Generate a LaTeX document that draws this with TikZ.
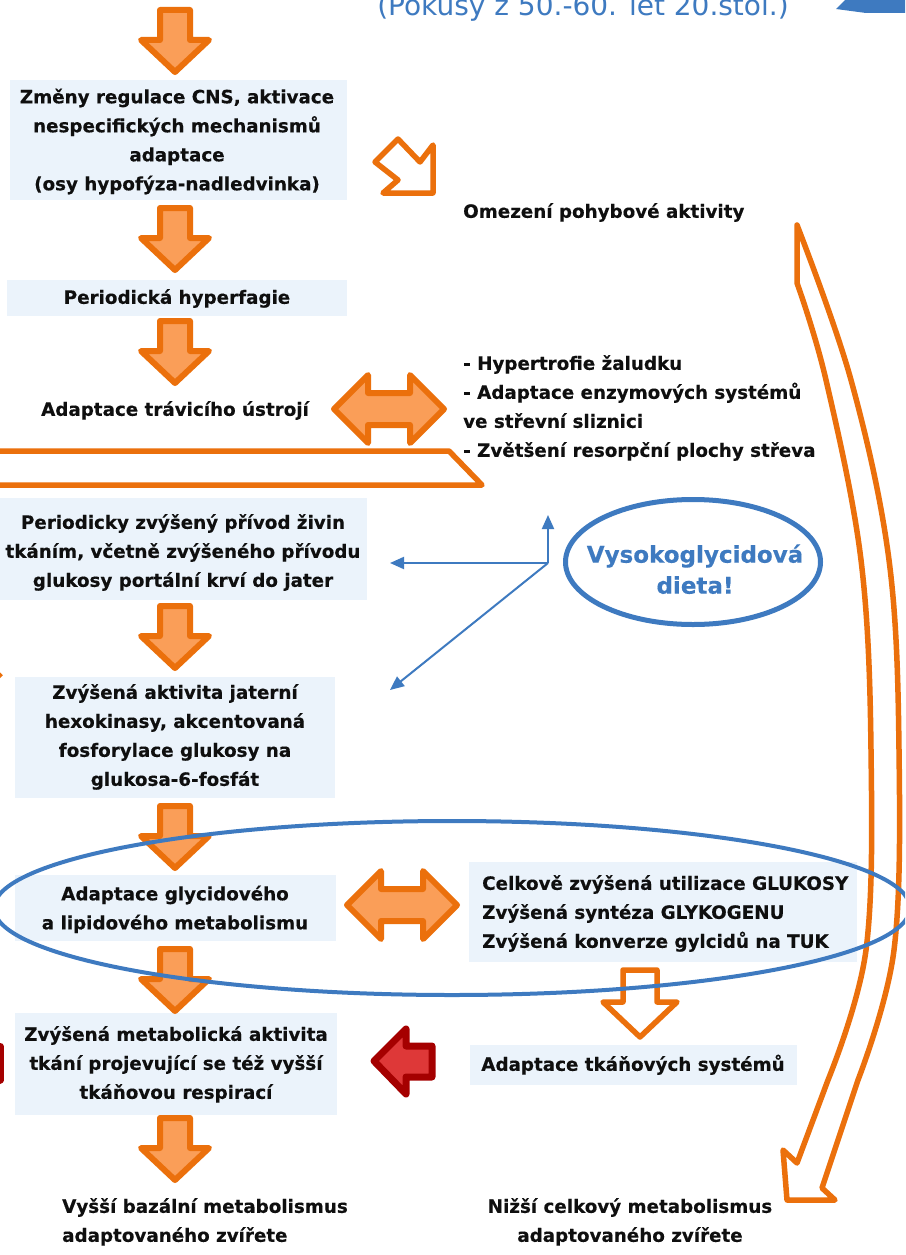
\documentclass[tikz,border=0pt]{standalone}
\usepackage{fontspec}
\setmainfont{DejaVu Sans}[BoldFeatures={FakeBold=0.35}]
\usetikzlibrary{arrows.meta,shapes.geometric}
\definecolor{orst}{RGB}{235,112,12}
\definecolor{orfill}{RGB}{250,158,88}
\definecolor{boxfill}{RGB}{235,243,251}
\definecolor{blu}{RGB}{62,122,192}
\definecolor{redst}{RGB}{165,0,0}
\definecolor{redfill}{RGB}{222,56,56}
\definecolor{inkc}{RGB}{15,15,15}
\begin{document}
\begin{tikzpicture}[x=1pt,y=-1pt,
  lbl/.style={font=\bfseries\fontsize{18.3}{29}\selectfont, text=inkc, inner sep=0pt},
  bgbox/.style={fill=boxfill},
  oarrow/.style={draw=orst, fill=orfill, line width=6pt, line join=round},
  ohollow/.style={draw=orst, fill=white, line width=5.5pt, line join=round},
  redarrow/.style={draw=redst, fill=redfill, line width=7pt, line join=round},
  bluelink/.style={draw=blu, line width=2pt, -{Triangle[length=14pt,width=12pt]}},
  darr/.pic={\path[oarrow] (-15,3) -- (15,3) -- (15,33) -- (34,33) -- (0,65) -- (-34,33) -- (-15,33) -- cycle;},
  dblarr/.pic={\path[oarrow] (-55,0) -- (-21,-34) -- (-21,-16) -- (21,-16) -- (21,-34) -- (55,0) -- (21,34) -- (21,16) -- (-21,16) -- (-21,34) -- cycle;}
]
\clip (0,0) rectangle (905,1255);
\fill[white] (0,0) rectangle (905,1255);

% caption at the top edge and its blue arrow
\node[font=\fontsize{28}{32}\selectfont, text=blu, inner sep=0pt, anchor=base] (src) at (583,16) {(Pokusy z 50.-60. let 20.stol.)};
\fill[blu] (836,9) -- (866,-21) -- (866,-6) -- (910,-6) -- (910,13) -- (866,13) -- cycle;

% background boxes
\fill[bgbox] (10,80) rectangle (347,200);
\fill[bgbox] (7,280) rectangle (347,316);
\fill[bgbox] (0,498) rectangle (367,600);
\fill[bgbox] (15,677) rectangle (335,798);
\fill[bgbox] (15,875) rectangle (336,941);
\fill[bgbox] (469,862) rectangle (857,962);
\fill[bgbox] (470,1045) rectangle (797,1085);
\fill[bgbox] (15,1013) rectangle (337,1115);

% left column texts
\node[lbl, align=center] (cns) at (177,141) {\strut Změny regulace CNS, aktivace\\\strut nespecifických mechanismů\\\strut adaptace\\\strut (osy hypofýza-nadledvinka)};
\node[lbl, align=center] (hyper) at (177,298) {\strut Periodická hyperfagie};
\node[lbl, align=center] (trav) at (175,410) {\strut Adaptace trávicího ústrojí};
\node[lbl, align=center] (privod) at (183,552) {\strut Periodicky zvýšený přívod živin\\\strut tkáním, včetně zvýšeného přívodu\\\strut glukosy portální krví do jater};
\node[lbl, align=center] (hexo) at (175,736.5) {\strut Zvýšená aktivita jaterní\\\strut hexokinasy, akcentovaná\\\strut fosforylace glukosy na\\\strut glukosa-6-fosfát};
\node[lbl, align=center] (glyc) at (175,909) {\strut Adaptace glycidového\\\strut a lipidového metabolismu};
\node[lbl, align=center] (resp) at (176,1064) {\strut Zvýšená metabolická aktivita\\\strut tkání projevující se též vyšší\\\strut tkáňovou respirací};
\node[lbl, align=left, anchor=west] (vyssi) at (62,1221.5) {\strut Vyšší bazální metabolismus\\\strut adaptovaného zvířete};

% right column texts
\node[lbl, anchor=west] (pohyb) at (463,212) {\strut Omezení pohybové aktivity};
\node[lbl, align=left, anchor=west] (gut) at (463,407.5) {\strut- Hypertrofie žaludku\\\strut- Adaptace enzymových systémů\\\strut ve střevní sliznici\\\strut- Zvětšení resorpční plochy střeva};
\node[lbl, align=left, anchor=west] (util) at (482,913) {\strut Celkově zvýšená utilizace GLUKOSY\\\strut Zvýšená syntéza GLYKOGENU\\\strut Zvýšená konverze gylcidů na TUK};
\node[lbl, align=center] (tkan) at (633,1065) {\strut Adaptace tkáňových systémů};
\node[lbl, align=center] (nizsi) at (630,1221.5) {\strut Nižší celkový metabolismus\\\strut adaptovaného zvířete};

% downward block arrows of the main chain
\foreach \yy in {7,205,318,603,803,946,1115} \pic at (175,\yy) {darr};

% double block arrows
\pic at (389,409) {dblarr};
\pic at (402,905) {dblarr};

% hollow arrows
\path[ohollow] (375,162) -- (398,139) -- (420,162) -- (433,145) -- (433,193) -- (383,193) -- (398,180) -- cycle;
\path[ohollow] (623,970) -- (657,970) -- (657,1002) -- (677,1002) -- (640,1037) -- (603,1002) -- (623,1002) -- cycle;
\path[ohollow] (-10,451) -- (449,451) -- (482,485) -- (-10,485) -- cycle;
\draw[orst, line width=5pt] (-6,670) -- (1,677);

% long bent arrow on the right
\path[ohollow] (797,225) -- plot[smooth, tension=0.6] coordinates {(797,225) (851,380) (889,560) (899,750) (894,950) (858,1080)}
  -- (822,1188) -- (835,1200) -- (787,1200) -- (783,1150) -- (797,1163)
  -- plot[smooth, tension=0.6] coordinates {(828,1080) (866,950) (871,750) (861,560) (826,380) (797,283)} -- cycle;

% red arrow
\path[redarrow] (374,1061) -- (406,1029) -- (406,1046) -- (432,1046) -- (432,1077) -- (406,1077) -- (406,1094) -- cycle;
\path[redarrow] (-20,1046) rectangle (0,1080);

% diet note and its links
\node[draw=blu, line width=5pt, ellipse, minimum width=255, minimum height=125, inner sep=0pt] (diet) at (693,562) {};
\node[font=\bfseries\fontsize{23}{31}\selectfont, text=blu, align=center, inner sep=0pt] (diettxt) at (695,572) {\strut Vysokoglycidová\\\strut dieta!};
\coordinate (jn) at (548,563);
\coordinate (upend) at (548,515);
\coordinate (leftend) at (390,563);
\coordinate (diagend) at (390,690);
\draw[bluelink] (jn) -- (upend);
\draw[bluelink] (jn) -- (leftend);
\draw[bluelink] (jn) -- (diagend);

% ring round the metabolic adaptation row
\node[draw=blu, line width=4pt, ellipse, minimum width=916, minimum height=174, inner sep=0pt] (ring) at (452,908) {};
\end{tikzpicture}
\end{document}
